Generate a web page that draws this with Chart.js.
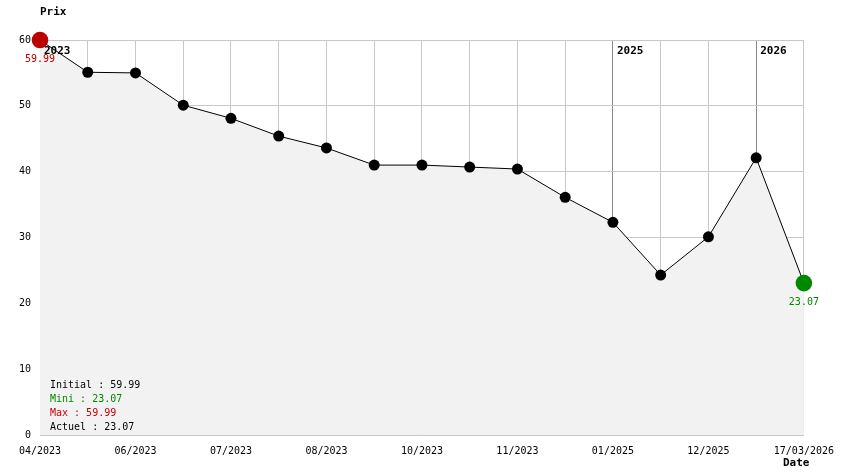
<!DOCTYPE html>
<html>
<head>
<meta charset="utf-8">
<script src="https://cdn.jsdelivr.net/npm/chart.js@4.4.1/dist/chart.umd.min.js"></script>
<style>
  html, body { margin: 0; padding: 0; background: #fff; }
  canvas { display: block; }
</style>
</head>
<body>
<canvas id="myChart" width="844" height="474"></canvas>
<script>
// tick labels (empty = no label shown)
const categories = ["04/2023", "", "06/2023", "", "07/2023", "", "08/2023", "", "10/2023", "", "11/2023", "", "01/2025", "", "12/2025", "", "17/03/2026"];
const prix = [59.99, 55.1, 55.0, 50.1, 48.1, 45.4, 43.6, 41.0, 41.0, 40.7, 40.4, 36.1, 32.3, 24.3, 30.1, 42.1, 23.07];
const yearIndex = [0, 12, 15];
const yearLabel = ["2023", "2025", "2026"];
const yTicks = [0, 10, 20, 30, 40, 50, 60];

const infoLines = [
  { text: "Initial : 59.99", color: "#000000" },
  { text: "Mini : 23.07", color: "#008800" },
  { text: "Max : 59.99", color: "#cc0000" },
  { text: "Actuel : 23.07", color: "#000000" }
];

const mono = "'DejaVu Sans Mono', 'Liberation Mono', monospace";

const iMax = prix.indexOf(Math.max(...prix));
const iMin = prix.indexOf(Math.min(...prix));

const extras = {
  id: "extras",
  afterDatasetsDraw(chart) {
    const ctx = chart.ctx;
    const x = chart.scales.x, y = chart.scales.y;
    const area = chart.chartArea;
    ctx.save();

    // year labels
    ctx.font = "bold 11px " + mono;
    ctx.fillStyle = "#000";
    ctx.textAlign = "left";
    ctx.textBaseline = "middle";
    yearIndex.forEach((idx, k) => {
      ctx.fillText(yearLabel[k], x.getPixelForValue(idx) + 4, area.top + 11);
    });

    // max / min markers
    const mark = (i, col, txtCol) => {
      const px = x.getPixelForValue(i), py = y.getPixelForValue(prix[i]);
      ctx.beginPath();
      ctx.arc(px, py, 8.3, 0, Math.PI * 2);
      ctx.fillStyle = col;
      ctx.fill();
      ctx.font = "10px " + mono;
      ctx.fillStyle = txtCol;
      ctx.textAlign = "center";
      ctx.textBaseline = "middle";
      ctx.fillText(prix[i].toFixed(2), px, py + 19);
    };
    mark(iMax, "#bb0000", "#bb0000");
    mark(iMin, "#008800", "#008800");

    // info box
    ctx.font = "10px " + mono;
    ctx.textAlign = "left";
    ctx.textBaseline = "middle";
    infoLines.forEach((l, k) => {
      ctx.fillStyle = l.color;
      ctx.fillText(l.text, area.left + 10, 385 + k * 14);
    });

    // axis titles
    ctx.font = "bold 11px " + mono;
    ctx.fillStyle = "#000";
    ctx.fillText("Prix", 40, 12);
    ctx.fillText("Date", 783, 463);
    ctx.restore();
  }
};

const config = {
  type: "line",
  data: {
    labels: categories,
    datasets: [{
      data: prix,
      borderColor: "#000",
      borderWidth: 1,
      backgroundColor: "#f2f2f2",
      fill: "origin",
      tension: 0,
      pointRadius: 5.5,
      pointBackgroundColor: "#000",
      pointBorderColor: "#000",
      pointBorderWidth: 0
    }]
  },
  options: {
    responsive: false,
    animation: false,
    layout: { padding: { top: 40, right: 40, left: 0, bottom: 0 } },
    plugins: { legend: { display: false }, tooltip: { enabled: false } },
    scales: {
      x: {
        offset: false,
        afterFit: (s) => { s.height = 39; },
        grid: {
          color: (c) => yearIndex.includes(c.index) ? "#888888" : "#c8c8c8",
          lineWidth: 1,
          drawTicks: false
        },
        border: { display: false },
        ticks: {
          autoSkip: false,
          maxRotation: 0,
          padding: 10,
          color: "#000",
          font: { family: mono, size: 10 }
        }
      },
      y: {
        min: 0,
        max: 60,
        afterFit: (s) => { s.width = 40; },
        afterBuildTicks: (s) => { s.ticks = yTicks.map(v => ({ value: v })); },
        grid: { color: "#c8c8c8", drawTicks: false },
        border: { display: false },
        ticks: {
          padding: 9,
          color: "#000",
          font: { family: mono, size: 10 }
        }
      }
    }
  },
  plugins: [extras]
};

const myChart = new Chart(document.getElementById("myChart"), config);
</script>
</body>
</html>
